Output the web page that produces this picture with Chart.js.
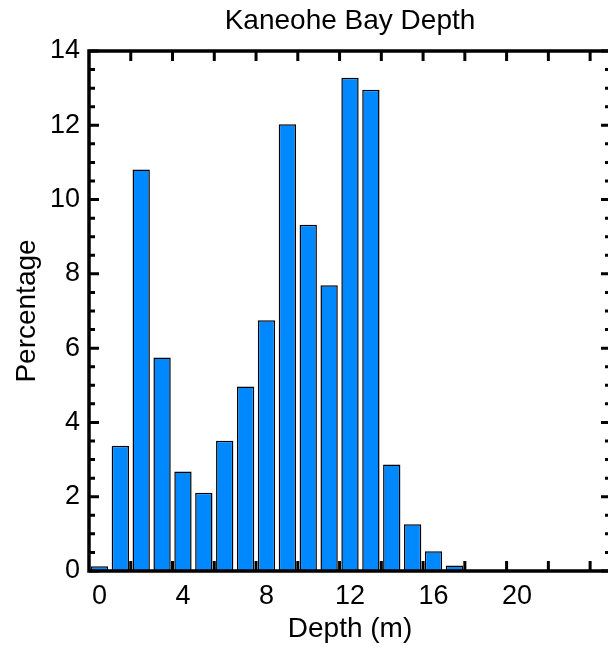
<!DOCTYPE html>
<html>
<head>
<meta charset="utf-8">
<script src="https://cdn.jsdelivr.net/npm/chart.js@4"></script>
<style>
  html, body { margin: 0; padding: 0; background: #fff; overflow: hidden; }
  #wrap { width: 608px; height: 651px; overflow: hidden; }
  canvas { display: block; }
</style>
</head>
<body>
<div id="wrap"><canvas id="c" width="614" height="651"></canvas></div>
<script>
// ---- data ----
const depths = [0, 1, 2, 3, 4, 5, 6, 7, 8, 9, 10, 11, 12, 13, 14, 15, 16, 17];
const percentages = [0.13, 3.37, 10.81, 5.75, 2.68, 2.11, 3.51, 4.97, 6.75, 12.03, 9.32, 7.69, 13.28, 12.96, 2.87, 1.26, 0.53, 0.15];
const xTickLabels = [0, 4, 8, 12, 16, 20];
const xTickMarks = [1.5, 3.5, 5.5, 7.5, 9.5, 11.5, 13.5, 15.5, 17.5, 19.5, 21.5, 23.5];
const yTickLabels = [0, 2, 4, 6, 8, 10, 12, 14];
const yMinorStep = 0.5;

const FONT = "'Liberation Sans', Arial, Helvetica, sans-serif";

const framePlugin = {
  id: 'frame',
  beforeDatasetsDraw(chart) {
    const { ctx, chartArea: a, scales } = chart;
    const xs = scales.x, ys = scales.y;
    ctx.save();
    ctx.strokeStyle = '#000';
    ctx.lineWidth = 3;
    ctx.lineCap = 'butt';
    ctx.beginPath();
    xTickMarks.forEach(v => {
      const px = xs.getPixelForValue(v);
      ctx.moveTo(px, a.bottom); ctx.lineTo(px, a.bottom - 10);
      ctx.moveTo(px, a.top); ctx.lineTo(px, a.top + 10);
    });
    const ymin = ys.min, ymax = ys.max;
    for (let k = 0; ymin + k * yMinorStep <= ymax + 1e-9; k++) {
      const v = ymin + k * yMinorStep;
      const major = yTickLabels.includes(v);
      const len = major ? 10 : 6;
      const py = ys.getPixelForValue(v);
      ctx.moveTo(a.left, py); ctx.lineTo(a.left + len, py);
      ctx.moveTo(a.right, py); ctx.lineTo(a.right - len, py);
    }
    ctx.stroke();
    ctx.restore();
  },
  afterDatasetsDraw(chart) {
    const { ctx, chartArea: a } = chart;
    ctx.save();
    ctx.strokeStyle = '#000';
    ctx.lineWidth = 3.5;
    ctx.strokeRect(a.left, a.top, a.right - a.left, a.bottom - a.top);
    ctx.restore();
  }
};

new Chart(document.getElementById('c'), {
  type: 'bar',
  data: {
    datasets: [{
      data: depths.map((d, i) => ({ x: d, y: percentages[i] })),
      backgroundColor: '#0088ff',
      borderColor: '#000',
      borderWidth: 1.5,
      barPercentage: 0.83,
      categoryPercentage: 1.0
    }]
  },
  options: {
    responsive: false,
    animation: false,
    events: [],
    layout: { padding: { left: 0, right: 3, top: 0, bottom: 0 } },
    plugins: {
      legend: { display: false },
      tooltip: { enabled: false },
      title: {
        display: true,
        text: 'Kaneohe Bay Depth',
        color: '#000',
        fullSize: false,
        font: { family: FONT, size: 28, weight: 'normal', lineHeight: 1.2 },
        padding: { top: 4, bottom: 13.4 }
      }
    },
    scales: {
      x: {
        type: 'linear',
        position: 'bottom',
        min: -0.5,
        max: 24.5,
        offset: false,
        grid: { display: false, drawTicks: false },
        border: { display: false },
        afterBuildTicks: s => { s.ticks = xTickLabels.map(v => ({ value: v })); },
        afterFit: s => { s.height = 80; },
        ticks: {
          color: '#000',
          padding: 9,
          maxRotation: 0,
          autoSkip: false,
          font: { family: FONT, size: 27 }
        },
        title: {
          display: true,
          text: 'Depth (m)',
          color: '#000',
          font: { family: FONT, size: 28, lineHeight: 1.2 },
          padding: { top: 0, bottom: 5 }
        }
      },
      y: {
        min: 0,
        max: 14,
        grid: { display: false, drawTicks: false },
        border: { display: false },
        afterBuildTicks: s => { s.ticks = yTickLabels.map(v => ({ value: v })); },
        afterFit: s => { s.width = 89; },
        ticks: {
          color: '#000',
          padding: 9,
          autoSkip: false,
          font: { family: FONT, size: 27 }
        },
        title: {
          display: true,
          text: 'Percentage',
          color: '#000',
          font: { family: FONT, size: 28, lineHeight: 1.2 },
          padding: { top: 10, bottom: 0 }
        }
      }
    }
  },
  plugins: [framePlugin]
});
</script>
</body>
</html>
